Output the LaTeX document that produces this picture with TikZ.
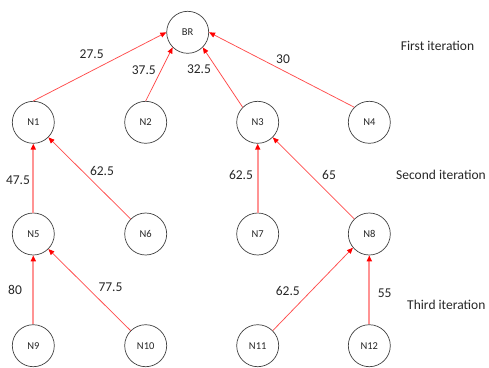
\documentclass[tikz,border=0pt]{standalone}
\usepackage{fontspec}
\setmainfont{Carlito}
\usetikzlibrary{arrows.meta}
\definecolor{ringgray}{HTML}{404040}
\definecolor{linkred}{HTML}{FF4D4D}
\begin{document}
\begin{tikzpicture}[x=1pt,y=-1pt,
  vertex/.style={circle,draw=ringgray,line width=0.7pt,minimum size=42pt,inner sep=0pt,font=\fontsize{10.5}{12}\selectfont,text=black!85},
  link/.style={draw=linkred,line width=0.75pt,-{Triangle[length=6pt,width=5pt,color=red,fill=red]}},
  uplink/.style={link,draw=linkred!60,line width=2pt},
  weight/.style={font=\fontsize{13.5}{16}\selectfont,text=black!85,inner sep=0pt},
  stage/.style={font=\fontsize{13.5}{16}\selectfont,text=black!85,inner sep=0pt}]
\useasboundingbox (0,0) rectangle (489,367);
% tree nodes
\node[vertex] (BR)  at (187.7,32.3) {BR};
\node[vertex] (N1)  at (33.3,122.3) {N1};
\node[vertex] (N2)  at (145.7,122.3) {N2};
\node[vertex] (N3)  at (257.7,122.3) {N3};
\node[vertex] (N4)  at (369.3,122.3) {N4};
\node[vertex] (N5)  at (33.3,234) {N5};
\node[vertex] (N6)  at (145.7,234) {N6};
\node[vertex] (N7)  at (257.7,234) {N7};
\node[vertex] (N8)  at (369.3,234) {N8};
\node[vertex] (N9)  at (33.3,345.7) {N9};
\node[vertex] (N10) at (145.7,345.7) {N10};
\node[vertex] (N11) at (257.7,345.7) {N11};
\node[vertex] (N12) at (369.3,345.7) {N12};
% first iteration links
\draw[link] (N1.north) -- (BR.west);
\draw[link] (N2.north) -- (BR.225);
\draw[link] (N3.135) -- (BR.-45);
\draw[link] (N4.135) -- (BR.east);
% second iteration links
\draw[uplink] (N5.north) -- (N1.south);
\draw[link] (N6.135) -- (N1.-45);
\draw[uplink] (N7.north) -- (N3.south);
\draw[link] (N8.135) -- (N3.-45);
% third iteration links
\draw[uplink] (N9.north) -- (N5.south);
\draw[link] (N10.135) -- (N5.-45);
\draw[link] (N11.45) -- (N8.220);
\draw[uplink] (N12.north) -- (N8.south);
% weights
\node[weight] (w1)  at (91.7,54) {27.5};
\node[weight] (w2)  at (143.8,70) {37.5};
\node[weight] (w3)  at (199,69.3) {32.5};
\node[weight] (w4)  at (283,59.3) {30};
\node[weight] (w5)  at (18,180.7) {47.5};
\node[weight] (w6)  at (102,171) {62.5};
\node[weight] (w7)  at (241,175.3) {62.5};
\node[weight] (w8)  at (329,175.3) {65};
\node[weight] (w9)  at (15,290) {80};
\node[weight] (w10) at (110.5,287.3) {77.5};
\node[weight] (w11) at (287.8,290.7) {62.5};
\node[weight] (w12) at (384.7,293.3) {55};
% iteration captions
\node[stage] (s1) at (437.5,46) {First iteration};
\node[stage] (s2) at (441,175.3) {Second iteration};
\node[stage] (s3) at (446.3,305) {Third iteration};
\end{tikzpicture}
\end{document}
